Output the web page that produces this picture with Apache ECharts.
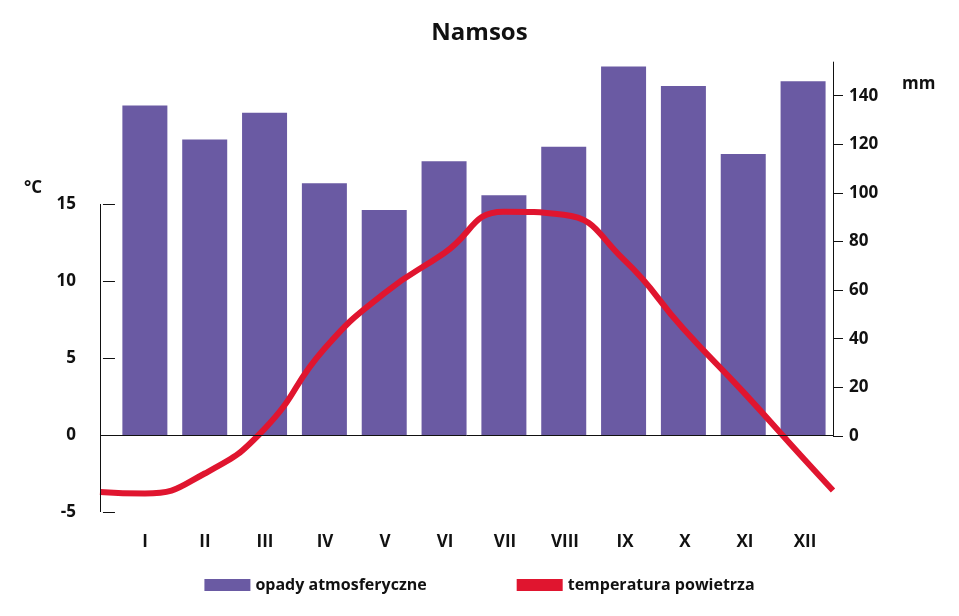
<!DOCTYPE html>
<html><head><meta charset="utf-8">
<script src="https://cdn.jsdelivr.net/npm/echarts@6/dist/echarts.min.js"></script>
<style>html,body{margin:0;background:#fff}#c{width:959px;height:616px}</style>
</head><body><div id="c"></div>
<script>
var months = ['I','II','III','IV','V','VI','VII','VIII','IX','X','XI','XII'];
var precip = [136,122,133,104,93,113,99,119,152,144,116,146];
var tempX = [-0.25,0.5,1.5,2.5,3.5,4.5,5.5,6.5,7.5,8.5,9.5,10.5,11.5,12];
var temp = [-3.7,-3.8,-2.5,0.4,5.6,9.2,11.8,14.5,14.3,11.4,6.9,2.8,-1.5,-3.6];
var tempTicks = [-5,0,5,10,15];
var mmTicks = [0,20,40,60,80,100,120,140];

var font = {fontFamily:'Open Sans',fontWeight:'bold',fontSize:17,color:'#111'};
var chart = echarts.init(document.getElementById('c'));
chart.setOption({
  animation:false,
  title:{text:'Namsos',left:'center',top:16,textStyle:{fontFamily:'Open Sans',fontWeight:'bold',fontSize:24,color:'#111'}},
  graphic:[
    {type:'text',left:24,top:180,style:{text:'°C',font:'bold 17px "Open Sans"',fill:'#111'}},
    {type:'text',left:902,top:76,style:{text:'mm',font:'bold 17px "Open Sans"',fill:'#111'}}
  ],
  legend:{bottom:18,itemGap:90,itemWidth:46,itemHeight:12,textStyle:{fontFamily:'Open Sans',fontWeight:'bold',fontSize:16,color:'#111'},
    data:[{name:'opady atmosferyczne',icon:'rect'},{name:'temperatura powietrza',icon:'rect',itemStyle:{color:'#e0152f'}}]},
  grid:[{left:100,right:126,top:60,bottom:104},{left:115,right:124,top:60,bottom:104}],
  xAxis:[
    {type:'value',gridIndex:0,min:-0.25,max:12,show:false},
    {type:'category',gridIndex:1,data:months,axisLine:{show:false},axisTick:{show:false},axisLabel:Object.assign({margin:22},font)}
  ],
  yAxis:[
    {type:'value',gridIndex:0,min:-5,max:24.35,splitLine:{show:false},axisLine:{show:false},
      axisTick:{show:true,customValues:tempTicks,length:12,lineStyle:{color:'#111'}},
      axisLabel:Object.assign({customValues:tempTicks,margin:24},font)},
    {type:'value',gridIndex:0,position:'right',min:-31.3,max:154.7,splitLine:{show:false},axisLine:{show:false},
      axisTick:{show:true,customValues:mmTicks,length:10,lineStyle:{color:'#111'}},
      axisLabel:Object.assign({customValues:mmTicks,margin:16},font)},
    {type:'value',gridIndex:1,show:false}
  ],
  series:[
    {name:'opady atmosferyczne',type:'bar',xAxisIndex:0,yAxisIndex:1,barWidth:45,clip:false,
      itemStyle:{color:'#6a5aa3'},
      data:precip.map(function(v,i){return [i+0.5,v];}),
      markLine:{symbol:'none',silent:true,label:{show:false},lineStyle:{color:'#111',width:1,type:'solid'},
        data:[[{coord:[12,0]},{coord:[12,154]}]]}},
    {name:'temperatura powietrza',type:'line',xAxisIndex:0,yAxisIndex:0,smooth:0.5,showSymbol:false,clip:false,
      lineStyle:{color:'#e0152f',width:6},itemStyle:{color:'#e0152f'},
      data:tempX.map(function(x,i){return [x,temp[i]];}),
      markLine:{symbol:'none',silent:true,label:{show:false},lineStyle:{color:'#111',width:1,type:'solid'},
        data:[[{coord:[-0.25,-5]},{coord:[-0.25,15]}],[{coord:[-0.25,0]},{coord:[12,0]}]]}}
  ]
});
</script></body></html>
